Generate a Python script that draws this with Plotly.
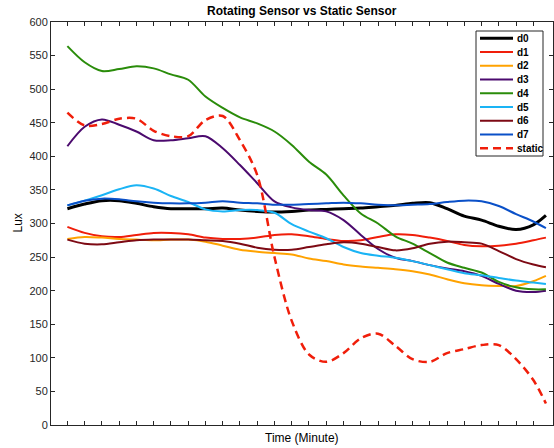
import plotly.graph_objects as go

time = [1, 2, 3, 4, 5, 6, 7, 8, 9, 10, 11, 12, 13, 14, 15, 16, 17, 18, 19, 20,
        21, 22, 23, 24, 25, 26, 27, 28, 28.73]

d0 = [322, 329, 334, 334, 330, 325, 322, 322, 322, 323, 320, 318, 317, 318, 320,
      321, 322, 323, 325, 327, 330, 331, 322, 311, 305, 296, 291, 298, 312]
d1 = [295, 286, 281, 280, 283, 286, 286, 284, 279, 277, 277, 279, 283, 284, 281,
      277, 274, 275, 280, 284, 283, 279, 274, 268, 266, 267, 270, 275, 279]
d2 = [277, 280, 279, 277, 276, 275, 276, 276, 273, 267, 261, 258, 256, 254, 248,
      244, 239, 236, 234, 232, 229, 224, 217, 211, 208, 207, 207, 214, 222]
d3 = [415, 444, 455, 447, 437, 424, 424, 427, 430, 412, 387, 360, 333, 324, 320,
      318, 305, 283, 262, 249, 244, 238, 233, 229, 222, 210, 200, 198, 200]
d4 = [564, 540, 527, 530, 534, 531, 522, 514, 489, 472, 458, 449, 437, 417, 392,
      373, 342, 315, 300, 281, 270, 256, 242, 234, 227, 213, 205, 202, 202]
d5 = [327, 334, 342, 351, 357, 352, 341, 332, 321, 318, 320, 320, 316, 299, 288,
      278, 265, 256, 252, 249, 244, 238, 232, 226, 223, 219, 215, 212, 210]
d6 = [276, 270, 269, 272, 275, 276, 276, 276, 275, 274, 270, 264, 261, 261, 265,
      269, 272, 270, 265, 260, 263, 270, 273, 272, 270, 259, 247, 239, 235]
d7 = [327, 334, 337, 336, 333, 331, 330, 330, 331, 333, 331, 330, 328, 328, 329,
      330, 331, 330, 328, 327, 328, 329, 332, 334, 333, 326, 314, 303, 293]
static = [465, 446, 448, 456, 456, 438, 430, 430, 454, 460, 424, 372, 250, 155, 105,
          94, 107, 129, 136, 118, 98, 94, 107, 113, 119, 119, 98, 67, 32]

names = ["d0", "d1", "d2", "d3", "d4", "d5", "d6", "d7", "static"]
series = [d0, d1, d2, d3, d4, d5, d6, d7, static]
colors = ["#000000", "#f01e0a", "#ffa200", "#4b0a6e", "#2a8c0a", "#1ab4f5",
          "#7d0a14", "#0a50c8", "#f01e0a"]
widths = [3, 2, 2, 2, 2, 2, 2, 2, 2.5]
dashes = ["solid"] * 8 + ["8px,5px"]

y_ticks = list(range(0, 601, 50))
x_ticks = list(range(1, 29))

W, H = 554, 448
ML, MR, MT, MB = 51, 1, 22, 23
PW, PH = W - ML - MR, H - MT - MB


def px_x(p):  # window pixel -> paper x
    return (p - ML) / PW


def px_y(p):  # window pixel -> paper y
    return (H - MB - p) / PH


fig = go.Figure()
for name, ys, c, w, d in zip(names, series, colors, widths, dashes):
    fig.add_trace(go.Scatter(
        x=time, y=ys, name=name, mode="lines", showlegend=False,
        line=dict(color=c, width=w, dash=d, shape="spline", smoothing=0.9),
    ))

font_family = "Liberation Sans, Arial, sans-serif"

shapes = [dict(type="rect", xref="paper", yref="paper",
               x0=px_x(476), x1=px_x(543), y0=px_y(156), y1=px_y(31),
               line=dict(color="#262626", width=1), fillcolor="white", layer="above")]
annotations = []
for i, (name, c, w, d) in enumerate(zip(names, colors, widths, dashes)):
    yy = px_y(38.3 + 13.75 * i)
    shapes.append(dict(type="line", xref="paper", yref="paper",
                       x0=px_x(480), x1=px_x(513), y0=yy, y1=yy, layer="above",
                       line=dict(color=c, width=w, dash=d)))
    annotations.append(dict(text="<b>" + name + "</b>", xref="paper", yref="paper",
                            x=px_x(515), y=yy, xanchor="left", yanchor="middle",
                            showarrow=False, font=dict(size=10, color="#000000")))

annotations += [
    dict(text="Time (Minute)", xref="paper", yref="paper", x=0.5, y=0,
         yshift=-13, xanchor="center", yanchor="middle", showarrow=False,
         font=dict(size=12, color="#000000")),
    dict(text="Lux", xref="paper", yref="paper", x=0, y=0.5, xshift=-34,
         xanchor="center", yanchor="middle", textangle=-90, showarrow=False,
         font=dict(size=12, color="#000000")),
    dict(text="<b>Rotating Sensor vs Static Sensor</b>", xref="paper", yref="paper",
         x=0.5, y=1, yshift=11, xanchor="center", yanchor="middle", showarrow=False,
         font=dict(size=12, color="#000000")),
]

fig.update_layout(
    width=W, height=H,
    margin=dict(l=ML, r=MR, t=MT, b=MB, pad=0),
    paper_bgcolor="white", plot_bgcolor="white",
    font=dict(family=font_family, size=11, color="#262626"),
    showlegend=False,
    xaxis=dict(range=[0.05, 29.14], tickvals=x_ticks, showticklabels=False,
               ticks="inside", ticklen=4, tickcolor="#262626", mirror="ticks",
               showline=True, linecolor="#262626", linewidth=1,
               showgrid=False, zeroline=False),
    yaxis=dict(range=[0, 600], tickvals=y_ticks, ticks="inside", ticklen=4,
               tickcolor="#262626", mirror="ticks", showline=True,
               linecolor="#262626", linewidth=1, showgrid=False, zeroline=False,
               tickfont=dict(size=11)),
    shapes=shapes,
    annotations=annotations,
)

fig.write_html("out.html",
               config={"displayModeBar": False},
               post_script="document.body.style.margin='0';"
                           "document.body.style.overflow='hidden';")
